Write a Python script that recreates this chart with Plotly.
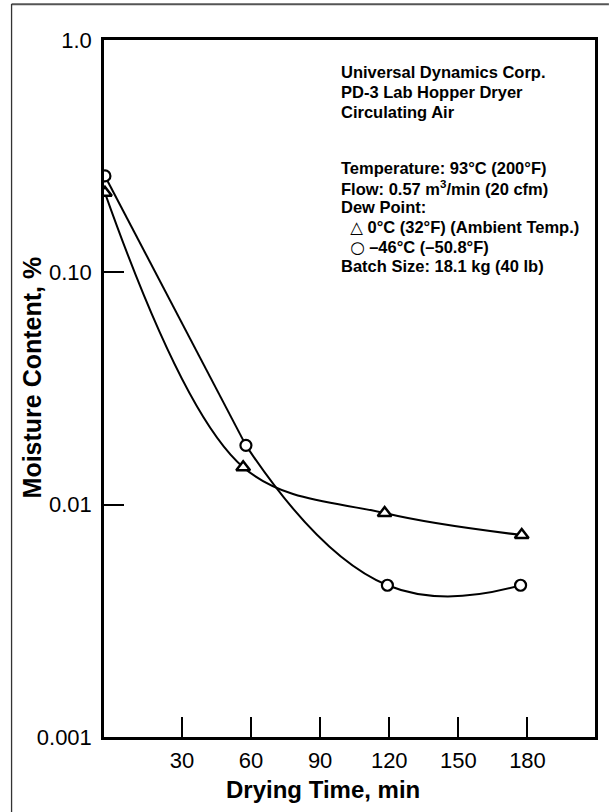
import plotly.graph_objects as go

# ---- data ----
time_tri = [-3.4, 56.6, 118.0, 177.5]
moist_tri = [0.22, 0.0145, 0.0092, 0.0074]
time_cir = [-3.4, 57.8, 119.2, 177.0]
moist_cir = [0.26, 0.018, 0.0045, 0.0045]

x_tickvals = [30, 60, 90, 120, 150, 180]
x_ticktext = ["30", "60", "90", "120", "150", "180"]
y_tickvals = [0.001, 0.01, 0.1, 1.0]
y_ticktext = ["0.001", "0.01", "0.10", "1.0"]

SYM = '<span style="font-family:DejaVu Sans">{}</span>'
info_lines_1 = ["Universal Dynamics Corp.", "PD-3 Lab Hopper Dryer", "Circulating Air"]
info_lines_2 = [
    "Temperature: 93°C (200°F)",
    "Flow: 0.57 m<sup>3</sup>/min (20 cfm)",
    "Dew Point:",
    "\u00a0\u00a0" + SYM.format("△") + " 0°C (32°F) (Ambient Temp.)",
    "\u00a0\u00a0" + SYM.format("○") + " –46°C (–50.8°F)",
    "Batch Size: 18.1 kg (40 lb)",
]

# ---- layout geometry (pixels) ----
W, H = 610, 812
L, R, T, B = 104, 12, 40, 75
PW, PH = W - L - R, H - T - B


def px(xp):
    return (xp - L) / PW


def py(yp):
    return (H - B - yp) / PH


FONT = "Liberation Sans, Arial, Helvetica, sans-serif"

fig = go.Figure()

# triangle series curve
fig.add_trace(go.Scatter(x=time_tri, y=moist_tri, mode="lines",
                         line=dict(color="black", width=2, shape="spline", smoothing=1.0),
                         hoverinfo="skip", showlegend=False))
# circle series: first segment straight, remaining smooth
fig.add_trace(go.Scatter(x=time_cir[:2], y=moist_cir[:2], mode="lines",
                         line=dict(color="black", width=2),
                         hoverinfo="skip", showlegend=False))
fig.add_trace(go.Scatter(x=time_cir[1:], y=moist_cir[1:], mode="lines",
                         line=dict(color="black", width=2, shape="spline", smoothing=1.3),
                         hoverinfo="skip", showlegend=False))
# markers
fig.add_trace(go.Scatter(x=time_tri, y=moist_tri, mode="markers",
                         marker=dict(symbol="triangle-up", size=12, color="white",
                                     line=dict(color="black", width=2.5)),
                         showlegend=False))
fig.add_trace(go.Scatter(x=time_cir, y=moist_cir, mode="markers",
                         marker=dict(symbol="circle", size=11, color="white",
                                     line=dict(color="black", width=2.2)),
                         showlegend=False))

annotations = []
y1 = [72, 92, 112]
for txt, yy in zip(info_lines_1, y1):
    annotations.append(dict(text=txt, x=px(340), y=py(yy), xref="paper", yref="paper",
                            xanchor="left", yanchor="middle", showarrow=False,
                            font=dict(family=FONT, size=16.5, color="black", weight="bold")))
y2 = [168, 187.5, 207, 227, 247, 266]
for txt, yy in zip(info_lines_2, y2):
    annotations.append(dict(text=txt, x=px(340), y=py(yy),
                            xref="paper", yref="paper",
                            xanchor="left", yanchor="middle", showarrow=False,
                            font=dict(family=FONT, size=16.5, color="black", weight="bold")))
# axis titles
annotations.append(dict(text="Drying Time, min", x=px(324), y=py(790), xref="paper", yref="paper",
                        xanchor="center", yanchor="middle", showarrow=False,
                        font=dict(family=FONT, size=24, color="black", weight="bold")))
annotations.append(dict(text="Moisture Content, %", x=px(32), y=py(377), xref="paper", yref="paper",
                        xanchor="center", yanchor="middle", showarrow=False, textangle=-90,
                        font=dict(family=FONT, size=25, color="black", weight="bold")))

shapes = [
    dict(type="line", xref="paper", yref="paper", x0=px(11), x1=px(612), y0=py(4.3), y1=py(4.3),
         line=dict(color="#555555", width=2)),
    dict(type="line", xref="paper", yref="paper", x0=px(11), x1=px(11), y0=py(4), y1=py(815),
         line=dict(color="#333333", width=1.3)),
]

fig.update_layout(
    width=W, height=H,
    margin=dict(l=L, r=R, t=T, b=B, pad=0),
    paper_bgcolor="white", plot_bgcolor="white",
    font=dict(family=FONT, color="black"),
    annotations=annotations, shapes=shapes,
    showlegend=False,
)
fig.update_xaxes(range=[-3.8, 209.3], tickmode="array", tickvals=x_tickvals, ticktext=x_ticktext,
                 ticks="inside", ticklen=20, tickwidth=2, tickcolor="black",
                 showline=True, linewidth=2.5, linecolor="black", mirror=True,
                 ticklabelstandoff=2,
                 showgrid=False, zeroline=False, tickfont=dict(size=22, family=FONT))
fig.update_yaxes(type="log", range=[-3, 0], tickmode="array", tickvals=y_tickvals, ticktext=y_ticktext,
                 ticks="inside", ticklen=20, tickwidth=2, tickcolor="black",
                 showline=True, linewidth=2.5, linecolor="black", mirror=True,
                 ticklabelstandoff=5,
                 showgrid=False, zeroline=False, tickfont=dict(size=22, family=FONT))

fig.write_html("out.html")
